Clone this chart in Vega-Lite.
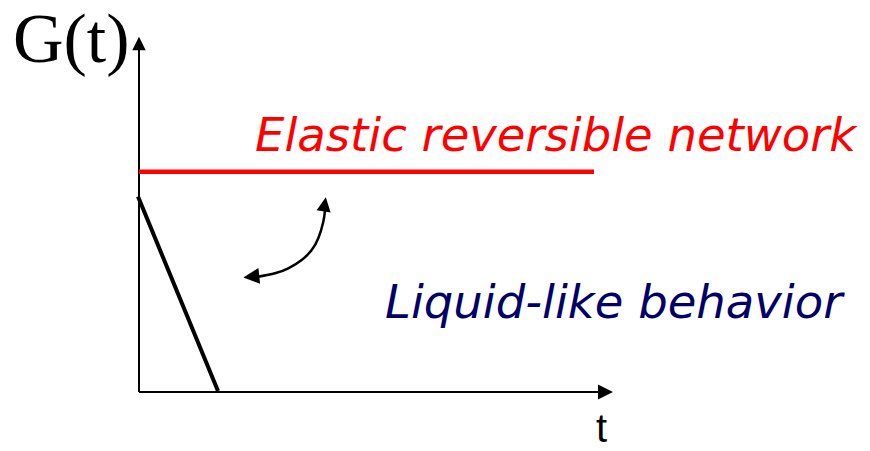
{
  "$schema": "https://vega.github.io/schema/vega-lite/v6.json",
  "width": 870,
  "height": 451,
  "padding": 0,
  "autosize": "none",
  "config": {"view": {"stroke": null}},
  "background": "white",
  "datasets": {
    "yaxis": [{"t": 0, "G": 0}, {"t": 0, "G": 6.84}],
    "xaxis": [{"t": 0, "G": 0}, {"t": 9.18, "G": 0}],
    "elastic": [{"t": 0, "G": 4.406}, {"t": 9.1, "G": 4.406}],
    "liquid": [{"t": -0.02, "G": 3.91}, {"t": 1.58, "G": 0.02}],
    "curve": [
      {"t": 3.72, "G": 3.64},
      {"t": 3.686, "G": 3.406},
      {"t": 3.586, "G": 3.074},
      {"t": 3.454, "G": 2.84},
      {"t": 3.254, "G": 2.64},
      {"t": 2.986, "G": 2.474},
      {"t": 2.72, "G": 2.374},
      {"t": 2.386, "G": 2.306}
    ],
    "headY": [{"t": 0, "G": 6.97}],
    "headX": [{"t": 9.33, "G": 0}],
    "headTop": [{"t": 3.714, "G": 3.754}],
    "headLeft": [{"t": 2.246, "G": 2.306}],
    "labelElastic": [{"t": 2.32, "G": 4.82, "label": "Elastic reversible network"}],
    "labelLiquid": [{"t": 4.92, "G": 1.474, "label": "Liquid-like behavior"}],
    "labelG": [{"t": -2.52, "G": 6.606, "label": "G(t)"}],
    "labelT": [{"t": 9.14, "G": -1.0, "label": "t"}]
  },
  "encoding": {
    "x": {"field": "t", "type": "quantitative", "axis": null, "scale": {"domain": [-2.78, 14.62], "nice": false, "zero": false}},
    "y": {"field": "G", "type": "quantitative", "axis": null, "scale": {"domain": [-1.18, 7.84], "nice": false, "zero": false}}
  },
  "layer": [
    {"data": {"name": "yaxis"}, "mark": {"type": "line", "color": "black", "strokeWidth": 2}},
    {"data": {"name": "xaxis"}, "mark": {"type": "line", "color": "black", "strokeWidth": 2}},
    {"data": {"name": "elastic"}, "mark": {"type": "line", "color": "#ff0000", "strokeWidth": 4.5}},
    {"data": {"name": "liquid"}, "mark": {"type": "line", "color": "black", "strokeWidth": 4}},
    {"data": {"name": "curve"}, "mark": {"type": "line", "color": "black", "strokeWidth": 2.5, "interpolate": "natural"}},
    {"data": {"name": "headY"}, "mark": {"type": "point", "shape": "M0,-1L1,1L-1,1Z", "filled": true, "color": "black", "opacity": 1, "size": 180, "strokeWidth": 0}},
    {"data": {"name": "headX"}, "mark": {"type": "point", "shape": "M0,-1L1,1L-1,1Z", "filled": true, "color": "black", "opacity": 1, "size": 225, "angle": 90, "strokeWidth": 0}},
    {"data": {"name": "headTop"}, "mark": {"type": "point", "shape": "M0,-1L1,1L-1,1Z", "filled": true, "color": "black", "opacity": 1, "size": 200, "angle": 9, "strokeWidth": 0}},
    {"data": {"name": "headLeft"}, "mark": {"type": "point", "shape": "M0,-1L1,1L-1,1Z", "filled": true, "color": "black", "opacity": 1, "size": 256, "angle": 264, "strokeWidth": 0}},
    {"data": {"name": "labelElastic"}, "mark": {"type": "text", "align": "left", "baseline": "alphabetic", "font": "DejaVu Sans", "fontStyle": "italic", "fontSize": 46.5, "color": "#ff0000"}, "encoding": {"text": {"field": "label"}}},
    {"data": {"name": "labelLiquid"}, "mark": {"type": "text", "align": "left", "baseline": "alphabetic", "font": "DejaVu Sans", "fontStyle": "italic", "fontSize": 46.5, "color": "#000066"}, "encoding": {"text": {"field": "label"}}},
    {"data": {"name": "labelG"}, "mark": {"type": "text", "align": "left", "baseline": "alphabetic", "font": "Liberation Serif", "fontSize": 70, "color": "black"}, "encoding": {"text": {"field": "label"}}},
    {"data": {"name": "labelT"}, "mark": {"type": "text", "align": "left", "baseline": "alphabetic", "font": "Liberation Sans", "fontSize": 40, "color": "black"}, "encoding": {"text": {"field": "label"}}}
  ]
}
